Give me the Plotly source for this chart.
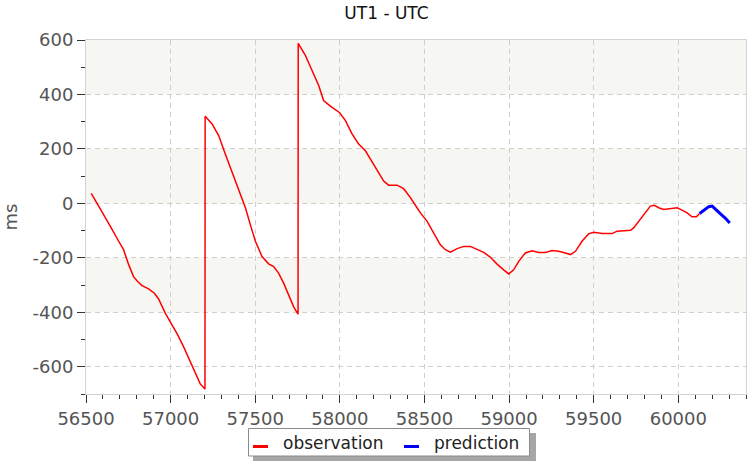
import plotly.graph_objects as go

obs_mjd = [56531, 56565, 56604, 56644, 56693, 56722, 56752, 56781, 56805, 56831,
           56870, 56904, 56929, 56969, 56998, 57038, 57077, 57116, 57146, 57175,
           57203,
           57204, 57245, 57284, 57323, 57363, 57402, 57442, 57471, 57501, 57540,
           57579, 57609, 57638, 57668, 57697, 57727, 57753,
           57754, 57796, 57836, 57875, 57904, 57944, 57999, 58033, 58072, 58111,
           58151, 58180, 58220, 58259, 58288, 58338, 58377, 58417, 58456, 58476,
           58515, 58554, 58594, 58624, 58653, 58693, 58732, 58771, 58811, 58850,
           58890, 58929, 58968, 58998, 59027, 59057, 59096, 59136, 59175, 59215,
           59254, 59293, 59333, 59363, 59392, 59431, 59470, 59500, 59550, 59609,
           59638, 59678, 59717, 59736, 59766, 59806, 59835, 59859, 59884, 59914,
           59953, 59993, 60022, 60052, 60081, 60107, 60126]
obs_ms = [37, 2, -41, -84, -139, -170, -225, -269, -287, -302,
          -314, -330, -351, -404, -435, -478, -527, -583, -626, -663,
          -682,
          320, 292, 249, 181, 113, 45, -16, -78, -139, -195,
          -222, -232, -256, -293, -336, -380, -407,
          588, 544, 489, 433, 378, 357, 333, 304, 255, 218,
          193, 163, 119, 82, 67, 67, 54, 21, -16, -35,
          -65, -109, -152, -170, -179, -166, -158, -158, -170, -180,
          -198, -223, -244, -259, -244, -213, -182, -174, -180, -180,
          -173, -176, -182, -188, -176, -139, -112, -106, -111, -111,
          -102, -100, -99, -90, -65, -32, -10, -7, -16, -22,
          -20, -16, -25, -35, -49, -49, -37]

pred_mjd = [60126, 60150, 60180, 60200, 60229, 60259, 60279, 60304]
pred_ms = [-37, -25, -12, -10, -25, -44, -55, -72]

x_ticks = [56500, 57000, 57500, 58000, 58500, 59000, 59500, 60000]
y_ticks = [-600, -400, -200, 0, 200, 400, 600]
shaded_rows = [(-400, -200), (0, 200), (400, 600)]
series_names = ["observation", "prediction"]
series_colors = ["#ff0000", "#0000ff"]

FONT = "DejaVu Sans"
W, H = 756, 466
L, T = 86, 40
R = W - 746
B = H - 394
PW, PH = W - L - R, H - T - B


def px_x(px):
    return (px - L) / PW


def px_y(py):
    return (H - B - py) / PH


fig = go.Figure()
fig.add_trace(go.Scatter(x=obs_mjd, y=obs_ms, mode="lines", name=series_names[0],
                         line=dict(color=series_colors[0], width=1.5), showlegend=False))
fig.add_trace(go.Scatter(x=pred_mjd, y=pred_ms, mode="lines", name=series_names[1],
                         line=dict(color=series_colors[1], width=3), showlegend=False))

for y0, y1 in shaded_rows:
    fig.add_shape(type="rect", xref="paper", yref="y", x0=0, x1=1, y0=y0, y1=y1,
                  fillcolor="#f6f6f2", line_width=0, layer="below")

# legend (drawn manually): shadow, box, symbols, labels
fig.add_shape(type="rect", xref="paper", yref="paper",
              x0=px_x(253), x1=px_x(536), y0=px_y(461), y1=px_y(433),
              fillcolor="#a6a6a6", line_width=0, layer="above")
fig.add_shape(type="rect", xref="paper", yref="paper",
              x0=px_x(248.5), x1=px_x(529.5), y0=px_y(456), y1=px_y(428.5),
              fillcolor="white", line=dict(color="#8a8a8a", width=1), layer="above")
sym_x = [(253, 268), (404, 419)]
txt_x = [280.5, 431.5]
for i in range(2):
    fig.add_shape(type="line", xref="paper", yref="paper",
                  x0=px_x(sym_x[i][0]), x1=px_x(sym_x[i][1]),
                  y0=px_y(446.5), y1=px_y(446.5),
                  line=dict(color=series_colors[i], width=3), layer="above")
    fig.add_annotation(xref="paper", yref="paper", x=px_x(txt_x[i]), y=px_y(443),
                       xanchor="left", yanchor="middle", showarrow=False,
                       text=series_names[i],
                       font=dict(family=FONT, size=17, color="#222222"))

axis_common = dict(
    showline=True, linecolor="#d4d4d4", linewidth=1, mirror=True,
    ticks="outside", tickcolor="#333", ticklen=8, tickwidth=1,
    showgrid=True, gridcolor="#cfcfcf", gridwidth=1, griddash="5px,4px",
    zeroline=False, automargin=False,
    tickfont=dict(family=FONT, size=18, color="#555555"),
)

fig.update_xaxes(range=[56500, 60400], tickvals=x_ticks,
                 ticktext=[str(v) for v in x_ticks],
                 minor=dict(dtick=100, tick0=56500, ticks="outside", ticklen=4,
                            tickcolor="#333", showgrid=False),
                 **axis_common)
fig.update_yaxes(range=[-700, 600], tickvals=y_ticks,
                 ticktext=[str(v) for v in y_ticks],
                 minor=dict(dtick=100, tick0=0, ticks="outside", ticklen=4,
                            tickcolor="#333", showgrid=False),
                 title=dict(text="ms", font=dict(family=FONT, size=18, color="#555555"),
                            standoff=12),
                 **axis_common)

fig.update_layout(
    width=W, height=H,
    margin=dict(l=L, r=R, t=T, b=B, autoexpand=False),
    paper_bgcolor="white", plot_bgcolor="white",
    font=dict(family=FONT, color="#333"),
    title=dict(text="UT1 - UTC", font=dict(family=FONT, size=17, color="#111"),
               xref="container", x=386.5 / W, xanchor="center",
               yref="container", y=1 - 13.5 / H, yanchor="middle"),
    showlegend=False,
)

fig.write_html("out.html",
               config={"displayModeBar": False, "staticPlot": True},
               post_script="document.body.style.margin='0px';"
                           "document.body.style.overflow='hidden';")
